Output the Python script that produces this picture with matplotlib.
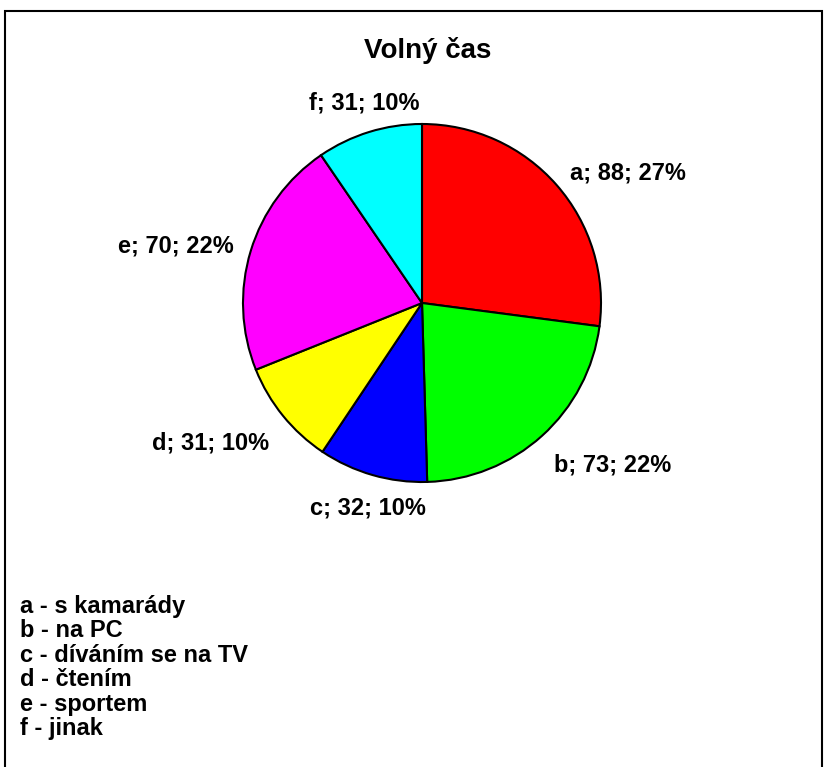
import numpy as np
import matplotlib
matplotlib.use("Agg")
import matplotlib.pyplot as plt
from matplotlib.patches import Rectangle

title = "Volný čas"
categories = ["a", "b", "c", "d", "e", "f"]
values = [88, 73, 32, 31, 70, 31]
legend_labels = ["a - s kamarády", "b - na PC", "c - díváním se na TV",
                 "d - čtením", "e - sportem", "f - jinak"]
colors = ["#FF0000", "#00FF00", "#0000FF", "#FFFF00", "#FF00FF", "#00FFFF"]

plt.rcParams['font.family'] = ['Liberation Sans', 'DejaVu Sans']

W, H = 827, 767
fig = plt.figure(figsize=(W / 100, H / 100), dpi=100)
fig.patch.set_facecolor("white")

# outer border (open at bottom)
fig.add_artist(Rectangle((5 / W, -0.02), 817 / W, (H - 11) / H + 0.02,
                         transform=fig.transFigure, fill=False,
                         edgecolor="black", linewidth=1.5))

# pie axes: center (422,303) px, radius 179 px
cx, cy, r = 422, 303, 179
ax = fig.add_axes([(cx - r) / W, (H - cy - r) / H, 2 * r / W, 2 * r / H])
wedges, _ = ax.pie(values, colors=colors, startangle=90, counterclock=False,
                   wedgeprops=dict(edgecolor="black", linewidth=1.5))
ax.set_xlim(-1, 1)
ax.set_ylim(-1, 1)
ax.set_aspect("equal")
ax.axis("off")

total = sum(values)
for w, cat, v in zip(wedges, categories, values):
    th = np.deg2rad((w.theta1 + w.theta2) / 2)
    c, s = np.cos(th), np.sin(th)
    x, y = 1.1 * c, 1.1 * s
    if c > 0.5:
        ha = "left"
    elif c < -0.5:
        ha = "right"
    else:
        ha = "center"
    if s < -0.5:
        va = "top"
        y -= 0.025
    elif s > 0.8:
        va = "bottom"
    else:
        va = "center"
    pct = round(100 * v / total)
    ax.text(x, y, f"{cat}; {v}; {pct}%", ha=ha, va=va, fontsize=17,
            fontweight="bold", clip_on=False)

fig.text(428 / W, 1 - 51 / H, title, ha="center", va="center",
         fontsize=20, fontweight="bold")

for i, lab in enumerate(legend_labels):
    fig.text(20 / W, 1 - (606 + i * 24.5) / H, lab, ha="left", va="center",
             fontsize=17, fontweight="bold")

fig.savefig("out.png", dpi=100)
